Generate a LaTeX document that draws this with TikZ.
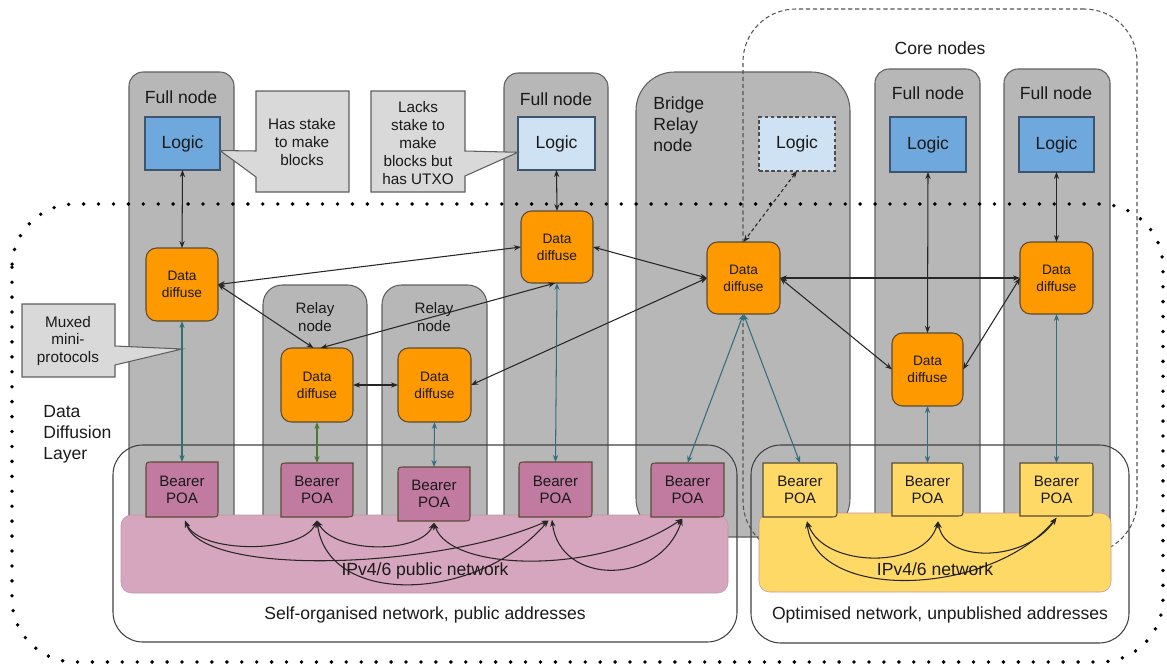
\documentclass[tikz,border=0pt]{standalone}
\usepackage{fontspec}
\setmainfont{Liberation Sans}
\usetikzlibrary{arrows.meta,calc}
\definecolor{colgray}{HTML}{B7B7B7}
\definecolor{colline}{HTML}{5F5F5F}
\definecolor{logicblue}{HTML}{6FA8DC}
\definecolor{logiclight}{HTML}{CFE2F3}
\definecolor{logicline}{HTML}{3D556E}
\definecolor{ddorange}{HTML}{FF9900}
\definecolor{ddline}{HTML}{5A4A36}
\definecolor{callgray}{HTML}{D9D9D9}
\definecolor{bpink}{HTML}{C27BA0}
\definecolor{npink}{HTML}{D5A6BD}
\definecolor{byellow}{HTML}{FFD966}
\definecolor{tealc}{HTML}{336E7C}
\definecolor{greenc}{HTML}{4A7A34}
\definecolor{txt}{HTML}{1A1A1A}
\definecolor{dashc}{HTML}{555555}
\newcommand{\mkbox}[7][]{\node[#1, minimum width={(#5-#3)*0.02cm}, minimum height={(#6-#4)*0.02cm}] (#2) at ({(#3+#5)/2},{(#4+#6)/2}) {#7};}
\newcommand{\pinkbearer}[5]{%
  \draw[bline, fill=bpink] (#2,#5) -- (#2,{#3+7}) .. controls (#2,#3) .. ({#2+7},#3) -- (#4,#3) -- (#4,{#5-7}) .. controls (#4,#5) .. ({#4-7},#5) -- cycle;
  \mkbox[btext]{#1}{#2}{#3}{#4}{#5}{Bearer\\POA}}
\newcommand{\yellowbearer}[5]{%
  \draw[bline, fill=byellow] (#2,#3) -- ({#4-4},#3) .. controls (#4,#3) .. (#4,{#3+4}) -- (#4,{#5-7}) .. controls (#4,#5) .. ({#4-7},#5) -- (#2,#5) -- cycle;
  \mkbox[btext]{#1}{#2}{#3}{#4}{#5}{Bearer\\POA}}
\begin{document}
\begin{tikzpicture}[x=0.02cm,y=-0.02cm,
  every node/.style={text=txt},
  col/.style={draw=colline, fill=colgray, line width=0.6pt, inner sep=0pt, outer sep=0pt, rounded corners=8pt},
  logic/.style={draw=logicline, fill=logicblue, line width=0.6pt, inner sep=0pt, outer sep=0pt, font=\fontsize{10}{12}\selectfont},
  dd/.style={draw=ddline, fill=ddorange, line width=0.6pt, rounded corners=6pt, align=center, inner sep=0pt, outer sep=0pt, font=\fontsize{7.8}{9.6}\selectfont},
  bline/.style={draw=ddline, line width=0.6pt},
  btext/.style={align=center, inner sep=0pt, outer sep=0pt, font=\fontsize{8.6}{9.8}\selectfont},
  lbl/.style={inner sep=0pt, font=\fontsize{10}{12}\selectfont},
  callout/.style={draw=colline, fill=callgray, line width=0.6pt},
  ctext/.style={align=center, inner sep=0pt, font=\fontsize{8.7}{10.2}\selectfont},
  grp/.style={draw=black!75, line width=0.6pt, rounded corners=17pt, inner sep=0pt},
  arr/.style={{Stealth[length=4pt,width=3pt]}-{Stealth[length=4pt,width=3pt]}},
  conn/.style={arr, draw=black!85, line width=0.6pt},
  tconn/.style={arr, draw=tealc, line width=0.6pt},
  gconn/.style={arr, draw=greenc, line width=0.6pt},
  dotline/.style={line width=2.2pt, line cap=round, dash pattern=on 0pt off 8.5pt, draw=black}
]
\useasboundingbox (0,0) rectangle (1167,666);

% columns
\mkbox[col]{col1}{129}{72}{234}{537}{}
\mkbox[col, rounded corners=11pt]{colr1}{263}{285}{367}{537}{}
\mkbox[col, rounded corners=11pt]{colr2}{382}{285}{487}{537}{}
\mkbox[col]{col2}{504}{73}{608}{537}{}
\mkbox[col, rounded corners=22pt]{colb}{636}{72}{850}{537}{}
\mkbox[col]{col3}{875}{69}{980}{537}{}
\mkbox[col]{col4}{1004}{69}{1110}{537}{}

% core nodes dashed group
\mkbox[draw=dashc, line width=0.6pt, dash pattern=on 2.4pt off 1.6pt, rounded corners=30pt, inner sep=0pt]{core}{743}{9}{1137}{554}{}

% logic boxes
\mkbox[logic]{logic1}{145}{117}{220}{170}{Logic}
\mkbox[logic, fill=logiclight]{logic2}{518}{117}{595}{170}{Logic}
\mkbox[logic, fill=logiclight, dash pattern=on 2pt off 1.5pt, draw=black!70]{logicb}{759}{117}{835}{171}{Logic}
\mkbox[logic]{logic3}{890}{117}{966}{172}{Logic}
\mkbox[logic]{logic4}{1019}{117}{1094}{172}{Logic}

% data diffuse boxes
\mkbox[dd]{dd1}{146}{248}{218}{321}{Data\\diffuse}
\mkbox[dd]{ddr1}{281}{348}{353}{422}{Data\\diffuse}
\mkbox[dd]{ddr2}{398}{348}{471}{422}{Data\\diffuse}
\mkbox[dd]{dd2}{521}{211}{593}{283}{Data\\diffuse}
\mkbox[dd]{ddb}{707}{242}{780}{314}{Data\\diffuse}
\mkbox[dd]{dd3}{892}{333}{963}{406}{Data\\diffuse}
\mkbox[dd]{dd4}{1020}{242}{1093}{314}{Data\\diffuse}

% callouts
\coordinate (tip1) at ([yshift=-4pt]logic1.east);
\draw[callout] (256,91) -- (349,91) -- (349,192) -- (256,192) -- (256,177) -- (tip1) -- (256,151) -- cycle;
\node[ctext] (call1) at (302,142) {Has stake\\to make\\blocks};
\coordinate (tip2) at ([yshift=-5pt]logic2.west);
\draw[callout] (371,91) -- (465,91) -- (465,151) -- (tip2) -- (465,176) -- (465,192) -- (371,192) -- cycle;
\node[ctext] (call2) at (418,143) {Lacks\\stake to\\make\\blocks but\\has UTXO};
\coordinate (muxtip) at (182,349);
\draw[callout] (22,304) -- (115,304) -- (115,346) -- (muxtip) -- (115,365) -- (115,377) -- (22,377) -- cycle;
\node[ctext] (call3) at (68,341) {Muxed\\mini-\\protocols};

% network areas
\mkbox[fill=npink, draw=npink!90!black, line width=0.3pt, rounded corners=6pt, inner sep=0pt]{pnet}{121}{515}{728}{593}{}
\mkbox[fill=byellow, draw=npink!90!black, line width=0.3pt, rounded corners=6pt, inner sep=0pt]{ynet}{759}{513}{1111}{592}{}

% bearers
\pinkbearer{b1}{146}{462}{218}{517}
\pinkbearer{b2}{281}{463}{353}{517}
\pinkbearer{b3}{398}{467}{470}{521}
\pinkbearer{b4}{519}{462}{592}{517}
\pinkbearer{b5}{651}{463}{724}{517}
\yellowbearer{yb1}{763}{463}{837}{517}
\yellowbearer{yb2}{892}{463}{963}{516}
\yellowbearer{yb3}{1020}{463}{1093}{516}

% group outlines
\mkbox[grp]{selforg}{113}{445}{737}{642}{}
\mkbox[grp]{optim}{751}{445}{1129}{643}{}

% data diffusion layer boundary
\draw[dotline, rounded corners=36pt] (12,204) rectangle (1163,662);

% connectors logic <-> data diffuse
\draw[conn] (logic1.south) -- (dd1.north);
\draw[conn] (logic2.south) -- (dd2.north);
\draw[conn, dash pattern=on 2pt off 1.5pt] (logicb.south) -- (ddb.north);
\draw[conn] (logic3.south) -- (dd3.north);
\draw[conn] (logic4.south) -- (dd4.north);

% data diffuse mesh
\draw[conn] (dd1.east) -- (dd2.west);
\draw[conn] (dd1.east) -- ([xshift=-2pt]ddr1.north);
\draw[conn] ([xshift=-1pt]dd2.south) -- ([xshift=2pt]ddr1.north);
\draw[conn] (ddr1.east) -- (ddr2.west);
\draw[conn] (ddr2.east) -- (ddb.west);
\draw[conn] (dd2.east) -- (ddb.west);
\draw[conn] (ddb.east) -- (dd4.west);
\draw[conn] (ddb.east) -- (dd3.west);
\draw[conn] (dd3.east) -- (dd4.west);

% data diffuse <-> bearer
\draw[tconn] (dd1.south) -- (b1.north);
\draw[gconn] (ddr1.south) -- (b2.north);
\draw[tconn] (ddr2.south) -- (b3.north);
\draw[tconn] (dd2.south) -- (b4.north);
\draw[tconn] (ddb.south) -- (b5.north);
\draw[tconn] (ddb.south) -- (yb1.north);
\draw[tconn] (dd3.south) -- (yb2.north);
\draw[tconn] (dd4.south) -- (yb3.north);

% public network links
\draw[conn] ([xshift=1.7pt,yshift=-2pt]b1.south) .. controls (200,554) and (302,554) .. ([yshift=-2pt]b2.south);
\draw[conn] ([yshift=-2pt]b2.south) .. controls (335,554) and (420,554) .. ([yshift=-1pt]b3.south);
\draw[conn] ([xshift=1.7pt,yshift=-2pt]b1.south) .. controls (205,578) and (440,568) .. ([xshift=-4pt,yshift=-2pt]b4.south);
\draw[conn] ([yshift=-2pt]b2.south) .. controls (328,608) and (478,602) .. ([xshift=-4pt,yshift=-2pt]b4.south);
\draw[conn] ([yshift=-1pt]b3.south) .. controls (450,572) and (600,575) .. ([xshift=-3pt,yshift=-1pt]b5.south);
\draw[conn] ([xshift=-2pt,yshift=-1.5pt]b4.south) .. controls (560,586) and (660,586) .. ([xshift=-3pt,yshift=-1pt]b5.south);

% optimised network links
\draw[conn] ([xshift=4pt,yshift=-2.5pt]yb1.south) .. controls (825,569) and (925,569) .. ([xshift=6pt,yshift=-3pt]yb2.south);
\draw[conn] ([xshift=6pt,yshift=-3pt]yb2.south) .. controls (945,563) and (1025,563) .. ([yshift=-1pt]yb3.south);
\draw[conn] ([xshift=4pt,yshift=-2.5pt]yb1.south) .. controls (815,602) and (990,597) .. ([yshift=-1pt]yb3.south);

% labels
\node[lbl] (fn1) at (181,97) {Full node};
\node[lbl] (fn2) at (556,99) {Full node};
\node[lbl] (fn3) at (928,93) {Full node};
\node[lbl] (fn4) at (1056,93) {Full node};
\node[lbl] (corelbl) at (940,48) {Core nodes};
\node[lbl, anchor=west, align=left, font=\fontsize{10}{11.9}\selectfont] (bridgelbl) at (653,124) {Bridge\\Relay\\node};
\node[ctext, font=\fontsize{8.6}{10.2}\selectfont] (rl1) at (315,317) {Relay\\node};
\node[ctext, font=\fontsize{8.6}{10.2}\selectfont] (rl2) at (434,317) {Relay\\node};
\node[lbl, anchor=west, align=left, font=\fontsize{10}{11.9}\selectfont] (ddl) at (43,434) {Data\\Diffusion\\Layer};
\node[lbl] (pubnet) at (425,571) {IPv4/6 public network};
\node[lbl] (ynetlbl) at (935,569) {IPv4/6 network};
\node[lbl] (selfl) at (425,615) {Self-organised network, public addresses};
\node[lbl] (optl) at (940,615) {Optimised network, unpublished addresses};
\end{tikzpicture}
\end{document}
